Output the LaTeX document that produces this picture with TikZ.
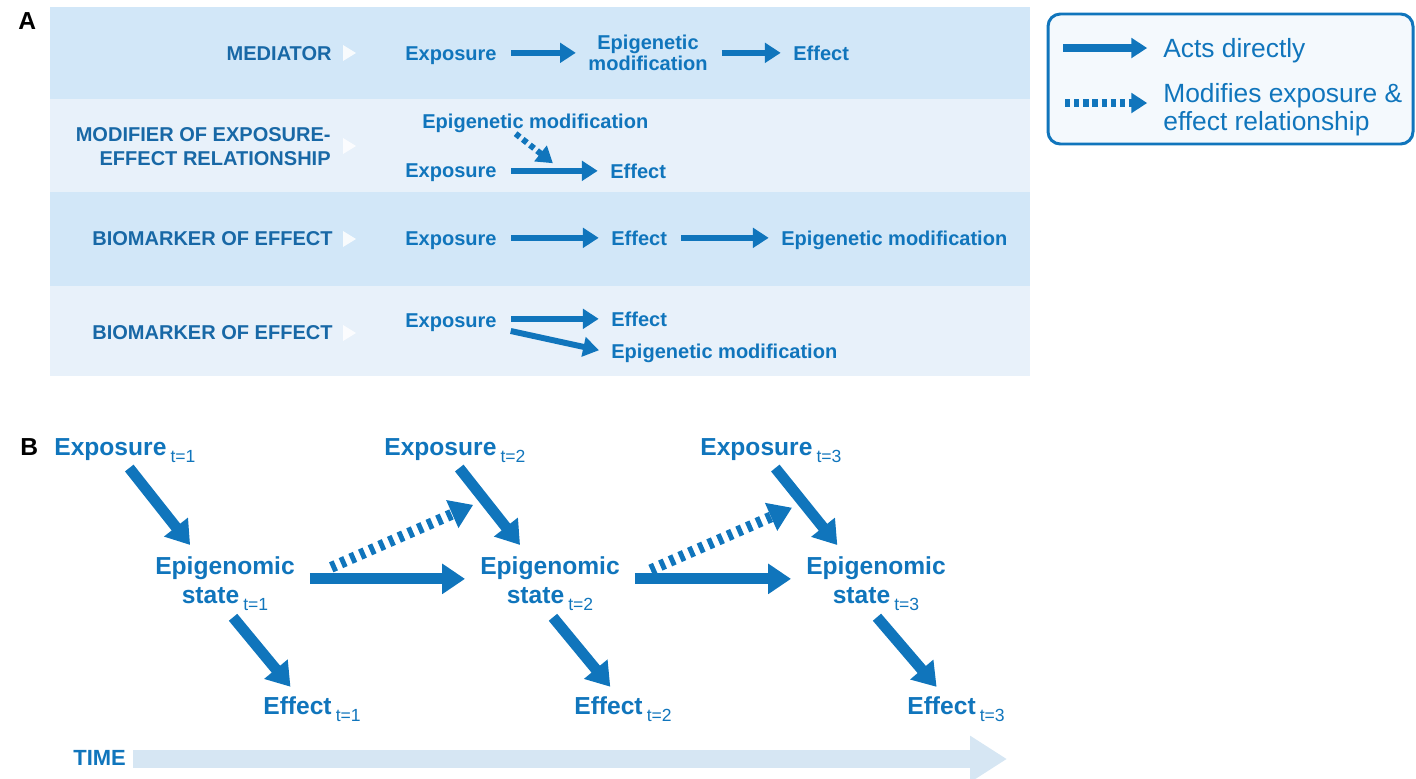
\documentclass[tikz,border=0pt]{standalone}
\usepackage{fontspec}
\setmainfont{Liberation Sans}
\usetikzlibrary{arrows.meta}
\definecolor{epiblue}{RGB}{16,117,188}
\definecolor{labblue}{RGB}{24,104,166}
\definecolor{rowdark}{RGB}{210,231,248}
\definecolor{rowlight}{RGB}{232,241,250}
\definecolor{timeblue}{RGB}{214,230,243}
\definecolor{legfill}{RGB}{244,249,253}
\newcommand{\tsub}[1]{\,\raisebox{-4pt}{\fontsize{10}{10}\selectfont\mdseries t=#1}}
\tikzset{atext/.style={inner sep=0pt,text=epiblue,font=\fontsize{11.4}{11.9}\selectfont\bfseries}}
\tikzset{alabel/.style={inner sep=0pt,text=labblue,font=\fontsize{11.4}{13.6}\selectfont\bfseries}}
\tikzset{btext/.style={inner sep=0pt,text=epiblue,font=\fontsize{14}{16.4}\selectfont\bfseries}}
\tikzset{ltext/.style={inner sep=0pt,text=epiblue,font=\fontsize{15}{16}\selectfont}}
\tikzset{panel/.style={inner sep=0pt,font=\fontsize{14}{14}\selectfont\bfseries}}
\tikzset{adirect/.style={draw=epiblue,line width=3.4pt,-{Triangle[length=9pt,width=11pt]},shorten <=8pt,shorten >=7pt}}
\tikzset{amodif/.style={adirect,dash pattern=on 3pt off 2.2pt}}
\tikzset{bdirect/.style={draw=epiblue,line width=6.2pt,-{Triangle[length=13pt,width=16.5pt]},shorten <=4pt,shorten >=8pt}}
\tikzset{bmodif/.style={bdirect,dash pattern=on 2.8pt off 3.2pt}}
\tikzset{notch/.style={fill=white,opacity=.85}}

\begin{document}
\begin{tikzpicture}[x=0.02cm,y=-0.02cm]
  \useasboundingbox (0,0) rectangle (1416,778);
  % panel A: the four rows
  \fill[rowdark] (50,7) rectangle (1030,99);
  \fill[rowlight] (50,99) rectangle (1030,192);
  \fill[rowdark] (50,192) rectangle (1030,286);
  \fill[rowlight] (50,286) rectangle (1030,376);
  \node[panel,anchor=base west] (pa) at (18,29) {A};
  % row labels and white notches
  \node[alabel,anchor=base east] (lmed) at (332,60) {MEDIATOR};
  \node[alabel,anchor=north east,align=right] (lmod) at (331,127) {MODIFIER OF EXPOSURE-\\EFFECT RELATIONSHIP};
  \node[alabel,anchor=base east] (lbio1) at (333,245) {BIOMARKER OF EFFECT};
  \node[alabel,anchor=base east] (lbio2) at (333,339) {BIOMARKER OF EFFECT};
  \foreach \y in {53,146,239,333}
    \fill[notch] (343,\y-8) -- (356,\y) -- (343,\y+8) -- cycle;
  % mediator
  \node[atext,anchor=base west] (expo1) at (405,60) {Exposure};
  \node[atext,anchor=north,align=center] (epim1) at (648,35) {Epigenetic\\modification};
  \node[atext,anchor=base west] (eff1) at (793,60) {Effect};
  \draw[adirect] (expo1.east |- eff1.west) -- (epim1.west |- eff1.west);
  \draw[adirect] (epim1.east |- eff1.west) -- (eff1.west);
  % modifier
  \node[atext,anchor=base west] (epim2) at (422,128) {Epigenetic modification};
  \node[atext,anchor=base west] (expo2) at (405,177) {Exposure};
  \node[atext,anchor=base west] (eff2) at (610,178) {Effect};
  \draw[adirect] (expo2.east |- eff2.west) -- coordinate[pos=.58] (hit2) (eff2.west);
  \draw[amodif,shorten <=1pt] ([xshift=-12pt]epim2.south) -- (hit2);
  % biomarker, effect first
  \node[atext,anchor=base west] (expo3) at (405,245) {Exposure};
  \node[atext,anchor=base west] (eff3) at (611,245) {Effect};
  \node[atext,anchor=base west] (epim3) at (781,245) {Epigenetic modification};
  \draw[adirect] (expo3.east |- eff3.west) -- (eff3.west);
  \draw[adirect] (eff3.east) -- (epim3.west |- eff3.east);
  % biomarker, side by side
  \node[atext,anchor=base west] (expo4) at (405,327) {Exposure};
  \node[atext,anchor=base west] (eff4) at (611,326) {Effect};
  \node[atext,anchor=base west] (epim4) at (611,358) {Epigenetic modification};
  \draw[adirect] (expo4.east |- eff4.west) -- (eff4.west);
  \draw[adirect] ([yshift=2pt]expo4.south east) -- (epim4.west);
  % legend
  \draw[epiblue,line width=1.7pt,rounded corners=7pt,fill=legfill] (1048,14) rectangle (1413,144);
  \node[ltext,anchor=base west] (leg1) at (1163,57) {Acts directly};
  \node[ltext,anchor=north west,align=left] (leg2) at (1163,83) {Modifies exposure \&\\effect relationship};
  \coordinate (ls1) at (1063,48);
  \coordinate (ls2) at (1065,103);
  \draw[adirect,line width=4pt,shorten <=0pt,shorten >=9pt] (ls1) -- (ls1 -| leg1.west);
  \draw[amodif,line width=4pt,shorten <=0pt,shorten >=9pt] (ls2) -- (ls2 -| leg2.west);
  % panel B: nodes
  \node[panel,anchor=base west] (pb) at (20,455) {B};
  \node[btext,anchor=base west] (ex1) at (54,455) {Exposure\tsub{1}};
  \node[btext,anchor=base west] (ex2) at (384,455) {Exposure\tsub{2}};
  \node[btext,anchor=base west] (ex3) at (700,455) {Exposure\tsub{3}};
  \node[btext,anchor=north,align=center] (epi1) at (225,556) {Epigenomic\\state\tsub{1}};
  \node[btext,anchor=north,align=center] (epi2) at (550,556) {Epigenomic\\state\tsub{2}};
  \node[btext,anchor=north,align=center] (epi3) at (876,556) {Epigenomic\\state\tsub{3}};
  \node[btext,anchor=base west] (ef1) at (263,714) {Effect\tsub{1}};
  \node[btext,anchor=base west] (ef2) at (574,714) {Effect\tsub{2}};
  \node[btext,anchor=base west] (ef3) at (907,714) {Effect\tsub{3}};
  % exposure acts on the state
  \draw[bdirect] (ex1.south) -- ([xshift=-14.9pt]epi1.north);
  \draw[bdirect] (ex2.south) -- coordinate[pos=.40] (m2) ([xshift=-12.1pt]epi2.north);
  \draw[bdirect] (ex3.south) -- coordinate[pos=.43] (m3) ([xshift=-17pt]epi3.north);
  % state gives effect
  \draw[bdirect,shorten <=5pt,shorten >=6.7pt] ([xshift=1.4pt]epi1.south) -- ([xshift=-8pt]ef1.north);
  \draw[bdirect,shorten <=5pt,shorten >=6.7pt] ([xshift=-1.5pt]epi2.south) -- ([xshift=-3pt]ef2.north);
  \draw[bdirect,shorten <=5pt,shorten >=6.7pt] ([xshift=-2.7pt]epi3.south) -- ([xshift=-6.7pt]ef3.north);
  % state carried forward
  \draw[bdirect,shorten <=8.5pt,shorten >=8.5pt] ([yshift=2.5pt]epi1.east) -- ([yshift=2.5pt]epi1.east -| epi2.west);
  \draw[bdirect,shorten <=8.5pt,shorten >=8.5pt] ([yshift=2.5pt]epi2.east) -- ([yshift=2.5pt]epi2.east -| epi3.west);
  % state modifies the next exposure
  \draw[bmodif,shorten <=22.5pt,shorten >=7pt] (epi1.east) -- (m2);
  \draw[bmodif,shorten <=19pt,shorten >=7pt] (epi2.east) -- (m3);
  % time
  \node[inner sep=0pt,text=epiblue,font=\fontsize{12.5}{12.5}\selectfont\bfseries,anchor=base west] (time) at (73,765) {TIME};
  \coordinate (tend) at (1007,759);
  \draw[timeblue,line width=10.2pt,-{Triangle[length=21pt,width=25pt]},shorten <=4pt] (time.east |- tend) -- (tend);
\end{tikzpicture}
\end{document}
